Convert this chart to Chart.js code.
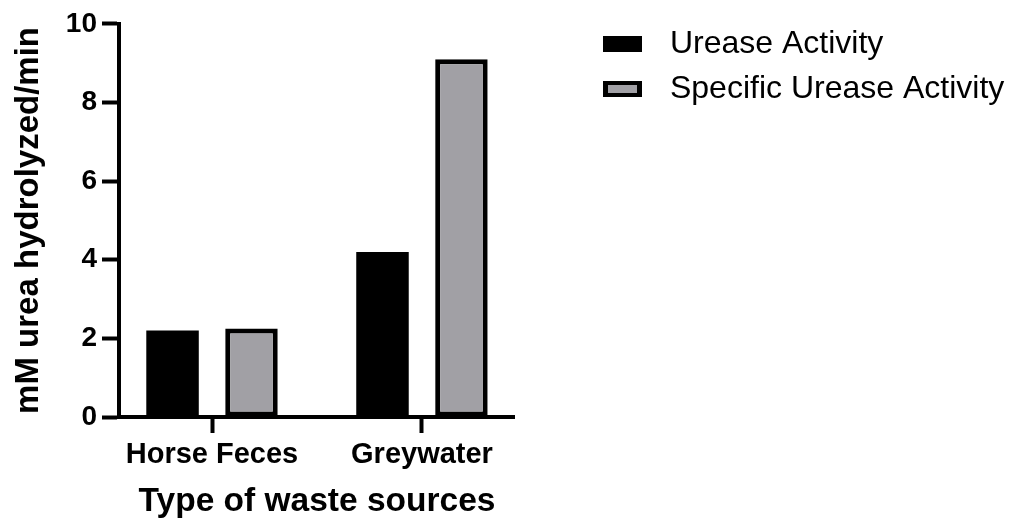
<!DOCTYPE html>
<html lang="en">

<head>
    <meta charset="UTF-8">
    <title>Urease activity by waste source</title>
    <script src="https://cdn.jsdelivr.net/npm/chart.js@4.4.0/dist/chart.umd.min.js"></script>
    <style>
        body { margin: 0; background: #fff; }
        #wrap { width: 1023px; height: 520px; position: relative; }
    </style>
</head>

<body>
    <div id="wrap"><canvas id="urease_chart"></canvas></div>
    <script>
        const categories = ['Horse Feces', 'Greywater'];
        const ureaseActivity = [2.2, 4.2];
        const specificActivity = [2.25, 9.1];
        const seriesNames = ['Urease Activity', 'Specific Urease Activity'];
        const yMin = 0, yMax = 10, yStep = 2;

        const FONT = "'Liberation Sans', Arial, sans-serif";
        const GREY = '#a1a0a5';

        // legend swatch as an image, so the box can sit left of a wider slot
        function swatch(fill, edge) {
            const c = document.createElement('canvas');
            c.width = 126; c.height = 16;
            const g = c.getContext('2d');
            g.fillStyle = edge || fill;
            g.fillRect(75, 0, 39, 16);
            if (edge) {
                g.fillStyle = fill;
                g.fillRect(80, 4, 29, 8);
            }
            return c;
        }
        const swatches = [swatch('#000'), swatch(GREY, '#000')];

        const toPoints = arr => arr.map((v, i) => ({ x: i, y: v }));

        new Chart(document.getElementById('urease_chart'), {
            type: 'bar',
            data: {
                datasets: [{
                    label: seriesNames[0],
                    data: toPoints(ureaseActivity),
                    backgroundColor: '#000',
                    borderWidth: 0,
                    categoryPercentage: 0.752,
                    barPercentage: 0.665
                }, {
                    label: seriesNames[1],
                    data: toPoints(specificActivity),
                    backgroundColor: GREY,
                    borderColor: '#000',
                    borderWidth: 5,
                    borderSkipped: false,
                    categoryPercentage: 0.752,
                    barPercentage: 0.665
                }]
            },
            options: {
                responsive: true,
                maintainAspectRatio: false,
                animation: false,
                layout: { padding: { top: 5, right: 8.7, left: 0, bottom: 0 } },
                plugins: {
                    tooltip: { enabled: false },
                    legend: {
                        position: 'right',
                        align: 'start',
                        maxWidth: 1000,   // otherwise capped at a quarter of the canvas
                        title: { display: true, text: '', font: { size: 10, lineHeight: 1 }, padding: 0 },
                        labels: {
                            usePointStyle: true,
                            pointStyleWidth: 126,
                            padding: 13,
                            color: '#000',
                            font: { family: FONT, size: 32 },
                            generateLabels: chart => chart.data.datasets.map((ds, i) => ({
                                text: ds.label,
                                pointStyle: swatches[i],
                                fillStyle: ds.backgroundColor,
                                strokeStyle: '#000',
                                fontColor: '#000',
                                lineWidth: 0,
                                hidden: false,
                                datasetIndex: i
                            }))
                        }
                    }
                },
                scales: {
                    x: {
                        type: 'linear',
                        offset: false,
                        min: -0.443,
                        max: 1.443,
                        afterFit: s => { s.height = 103; },
                        ticks: {
                            stepSize: 1,
                            includeBounds: false,
                            autoSkip: false,
                            maxRotation: 0,
                            padding: 5,
                            color: '#000',
                            font: { family: FONT, size: 29, weight: 'bold' },
                            callback: v => categories[v] ?? ''
                        },
                        grid: {
                            offset: false,
                            drawOnChartArea: false,
                            tickLength: 16,
                            tickWidth: 4,
                            tickColor: '#000'
                        },
                        border: { color: '#000', width: 4 },
                        title: {
                            display: true,
                            text: 'Type of waste sources',
                            color: '#000',
                            font: { family: FONT, size: 33.5, weight: 'bold', lineHeight: 1.1 },
                            padding: { top: 0, bottom: 0 }
                        }
                    },
                    y: {
                        min: yMin,
                        max: yMax,
                        afterFit: s => { s.width = 119; },
                        ticks: {
                            stepSize: yStep,
                            padding: 5,
                            color: '#000',
                            font: { family: FONT, size: 28, weight: 'bold', lineHeight: 1.35 }
                        },
                        grid: {
                            drawOnChartArea: false,
                            tickLength: 17,
                            tickWidth: 4,
                            tickColor: '#000'
                        },
                        border: { color: '#000', width: 4 },
                        title: {
                            display: true,
                            text: 'mM urea hydrolyzed/min',
                            color: '#000',
                            font: { family: FONT, size: 33, weight: 'bold' },
                            padding: { top: 9, bottom: 0 }
                        }
                    }
                }
            }
        });
    </script>
</body>

</html>
